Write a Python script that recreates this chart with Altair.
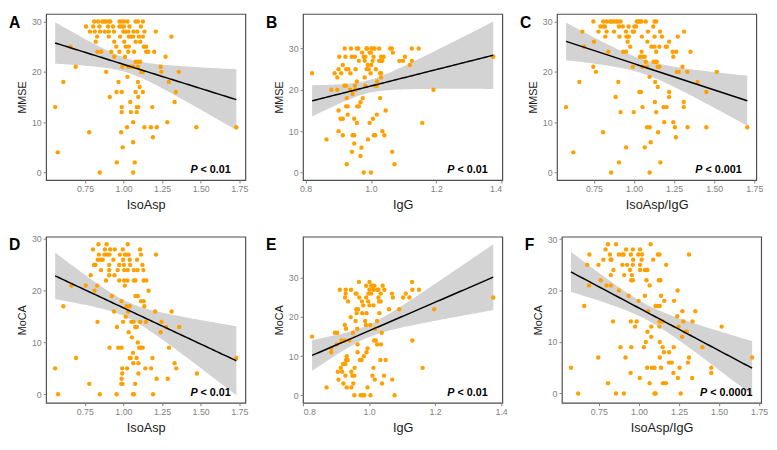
import altair as alt
import pandas as pd
import numpy as np

# ---- data: {score: [x values of points at that score]} ----
A_MMSE_ISOASP = {
    30: [0.809, 0.834, 0.862, 0.876, 0.887, 0.904, 0.914, 0.973, 0.988, 1.004, 1.025, 1.078, 1.093, 1.125],
    29: [0.756, 0.803, 0.843, 0.899, 0.931, 0.973, 0.988, 1.002, 1.038, 1.112],
    28: [0.782, 0.813, 0.847, 0.878, 0.904, 0.937, 0.998, 1.013, 1.030, 1.064, 1.089, 1.135, 1.209],
    27: [0.828, 0.904, 0.977, 1.034, 1.047, 1.062, 1.099, 1.125, 1.310],
    26: [0.819, 0.939, 1.004, 1.078, 1.107],
    25: [0.655, 0.952, 1.013, 1.034, 1.131, 1.146],
    24: [0.830, 0.855, 0.920, 0.973, 1.030, 1.068, 1.146, 1.160, 1.198],
    23: [0.939, 1.009, 1.272],
    22: [1.078, 1.093, 1.107],
    21: [0.689, 0.992, 1.030, 1.047, 1.062, 1.093, 1.240],
    20: [0.887, 1.114, 1.125, 1.245, 1.358],
    19: [1.025],
    18: [0.609, 0.967, 1.093, 1.293],
    17: [1.104],
    16: [0.954, 0.988, 1.078, 1.125, 1.339],
    15: [0.910, 1.095],
    14: [1.043, 1.331],
    13: [0.556, 0.988, 1.085, 1.095, 1.186],
    12: [0.988, 1.047, 1.085],
    10: [1.062, 1.283],
    9: [1.022, 1.135, 1.177, 1.215, 1.472, 1.731],
    8: [0.777, 0.984],
    7: [1.190],
    6: [1.062],
    5: [0.994],
    4: [0.573],
    2: [0.956, 1.072],
    0: [0.845, 1.062],
}

B_MMSE_IGG = {
    30: [0.920, 0.939, 0.957, 0.961, 0.986, 0.988, 1.001, 1.006, 1.011, 1.025, 1.059, 1.064, 1.125, 1.146],
    29: [0.973, 0.996, 1.000, 1.067],
    28: [0.903, 0.922, 0.941, 0.951, 0.978, 0.983, 1.008, 1.031, 1.039, 1.104, 1.374],
    27: [0.963, 0.981, 1.005, 1.025, 1.030, 1.035, 1.087, 1.098, 1.125],
    26: [0.914, 0.990, 1.001, 1.119],
    25: [0.901, 0.924, 0.931, 0.953, 0.987, 0.993, 1.015],
    24: [0.820, 0.889, 0.909, 0.937, 0.999, 1.028, 1.031],
    23: [0.897, 0.981, 1.031],
    22: [0.957, 1.019],
    21: [0.919, 0.924, 0.951, 0.983, 1.013, 1.018],
    20: [0.879, 0.897, 0.936, 0.953, 1.191],
    19: [0.944],
    18: [0.926, 0.975, 1.028],
    17: [0.968],
    16: [0.924, 0.929, 0.958, 0.963],
    15: [0.901, 1.045],
    14: [0.929, 1.018],
    13: [0.907, 0.914, 0.949, 1.006],
    12: [0.957, 0.996, 1.157],
    10: [0.901, 1.035],
    9: [0.914, 0.944, 0.949, 1.009, 1.013, 1.041],
    8: [0.864, 0.991],
    7: [0.949],
    6: [0.971],
    5: [0.942, 1.065],
    4: [0.968],
    2: [0.926, 1.072],
    0: [0.978, 1.000],
}

C_MMSE_RATIO = {
    30: [0.746, 0.807, 0.829, 0.851, 0.859, 0.871, 0.887, 0.899, 0.916, 1.017, 1.027, 1.037, 1.047, 1.073, 1.128, 1.138],
    29: [0.790, 0.809, 0.819, 0.906, 0.930, 0.966, 1.002, 1.013, 1.120],
    28: [0.677, 0.778, 0.829, 0.875, 0.950, 0.992, 1.000, 1.087, 1.162, 1.312],
    27: [0.821, 0.909, 0.952, 0.960, 0.968, 1.049, 1.128, 1.174, 1.273],
    26: [0.750, 0.960, 1.083, 1.219],
    25: [0.689, 0.976, 1.108, 1.128, 1.158, 1.198, 1.205],
    24: [0.839, 0.932, 0.950, 1.047, 1.138, 1.241, 1.263, 1.352],
    23: [1.037, 1.053, 1.067, 1.245],
    22: [1.073, 1.122, 1.134, 1.142],
    21: [0.746, 0.992, 1.053, 1.081, 1.148, 1.158, 1.302],
    20: [0.762, 1.267, 1.279, 1.332, 1.516],
    19: [1.097],
    18: [0.659, 0.902, 1.132, 1.396],
    17: [1.148],
    16: [1.033, 1.043, 1.219, 1.451],
    15: [0.885, 1.219],
    14: [1.130, 1.310],
    13: [0.576, 1.053, 1.184, 1.203, 1.310],
    12: [0.916, 0.998, 1.138],
    10: [1.188, 1.245],
    9: [1.081, 1.097, 1.255, 1.334, 1.451, 1.706],
    8: [0.807, 1.150],
    7: [1.261],
    6: [1.104],
    5: [0.950, 1.067],
    4: [0.621],
    2: [0.906, 1.164],
    0: [0.857, 1.097],
}

D_MOCA_ISOASP = {
    29: [0.838, 0.891, 1.028],
    28: [0.803, 0.880, 0.914, 0.944, 0.996, 1.108],
    27: [0.841, 0.877, 0.895, 0.910, 0.977, 1.009, 1.022, 1.034, 1.114, 1.211],
    26: [0.834, 0.851, 0.866, 0.935, 0.998, 1.041, 1.089],
    25: [0.809, 0.819, 0.908, 0.973, 1.003, 1.043, 1.123],
    24: [0.855, 0.908, 0.963, 1.005, 1.028, 1.068, 1.091, 1.129],
    23: [0.788, 0.908, 0.942],
    22: [0.887, 0.973, 1.005, 1.026, 1.068, 1.078, 1.131, 1.148],
    21: [0.662, 0.756, 0.830, 1.009],
    20: [0.813, 1.163],
    19: [0.925, 1.078, 1.093],
    18: [0.988, 1.114, 1.131],
    17: [0.611, 1.020, 1.041, 1.135],
    16: [0.939, 1.030, 1.205, 1.312],
    15: [1.015],
    14: [0.832, 0.998, 1.051, 1.066, 1.108, 1.146, 1.247],
    13: [0.958, 1.076, 1.087, 1.276, 1.361],
    12: [1.034, 1.241],
    11: [1.055],
    10: [1.093],
    9: [0.910, 0.967, 0.988, 1.102, 1.114, 1.125, 1.295],
    8: [1.062],
    7: [0.693, 1.041, 1.047, 1.085, 1.188, 1.731],
    6: [1.064, 1.097, 1.331],
    5: [0.558, 0.992, 1.024, 1.142, 1.179, 1.342],
    4: [0.992, 1.097, 1.476],
    3: [0.988, 1.215, 1.287],
    2: [0.779, 0.986, 0.994, 1.076],
    0: [0.577, 0.847, 0.956, 1.062, 1.068, 1.192],
}

E_MOCA_IGG = {
    29: [0.969, 1.001, 1.130],
    28: [0.991, 1.006, 1.011, 1.016, 1.041],
    27: [0.911, 0.929, 0.945, 1.001, 1.013, 1.024, 1.028, 1.046, 1.131, 1.151],
    26: [0.929, 0.959, 0.962, 0.998, 1.006, 1.035, 1.069, 1.111],
    25: [0.927, 0.970, 0.991, 1.028, 1.072, 1.103, 1.122, 1.376],
    24: [0.936, 0.978, 0.997, 1.030, 1.035],
    23: [0.982, 1.001, 1.013],
    22: [0.961, 0.966, 1.060, 1.091, 1.197],
    21: [0.962, 0.979, 0.992, 1.031],
    20: [0.944],
    19: [0.959, 0.988, 1.024],
    18: [0.926, 0.990, 1.003],
    17: [0.930, 0.964, 1.018],
    16: [0.896, 0.903, 0.951, 1.038],
    15: [0.827],
    14: [0.916, 0.925, 0.940, 1.015, 1.020, 1.131],
    13: [0.902, 0.965, 1.024, 1.036],
    12: [0.885, 0.995],
    11: [0.885, 0.965, 0.992],
    10: [0.932, 0.984],
    9: [0.930, 0.935, 0.972, 0.977, 1.034, 1.050],
    8: [0.921, 0.928],
    7: [0.914, 0.956, 1.013, 1.162],
    6: [0.905, 0.918, 0.946],
    5: [0.928, 0.949, 0.955, 1.010, 1.045],
    4: [0.907, 1.017, 1.070],
    3: [0.922, 0.952, 1.039],
    2: [0.871, 0.932, 0.946, 0.995],
    0: [0.955, 0.974, 0.980, 0.985, 1.004, 1.077],
}

F_MOCA_RATIO = {
    29: [0.807, 0.857, 1.073],
    28: [0.792, 0.920, 0.962, 1.007],
    27: [0.691, 0.819, 0.875, 0.895, 0.905, 0.950, 0.996, 1.019, 1.118, 1.128, 1.312],
    26: [0.778, 0.823, 0.829, 0.964, 1.017, 1.089],
    25: [0.677, 0.748, 0.897, 0.926, 0.962, 1.007, 1.170],
    24: [0.841, 0.944, 1.007, 1.037, 1.047, 1.053],
    23: [0.825, 0.908, 0.956],
    22: [0.762, 0.952, 0.962, 1.047, 1.124, 1.134],
    21: [0.689, 0.798, 0.825, 1.067],
    20: [0.875, 1.241],
    19: [0.936, 1.037, 1.138],
    18: [0.998, 1.158, 1.219],
    17: [0.659, 1.104, 1.118, 1.130],
    16: [1.057, 1.271, 1.352],
    15: [1.239],
    14: [0.839, 0.950, 0.986, 1.128, 1.138, 1.148, 1.277, 1.334],
    13: [0.976, 1.077, 1.128, 1.247, 1.516],
    12: [1.053, 1.289, 1.299],
    11: [1.077, 1.269],
    10: [1.043, 1.130],
    9: [0.885, 0.952, 1.031, 1.148, 1.217, 1.396],
    8: [1.156, 1.188],
    7: [0.746, 0.916, 1.130, 1.312, 1.706],
    6: [1.188, 1.205, 1.306],
    5: [0.576, 1.051, 1.081, 1.097, 1.138, 1.253, 1.451],
    4: [0.948, 1.215, 1.451],
    3: [1.005, 1.243, 1.332],
    2: [0.807, 1.067, 1.150, 1.168],
    0: [0.621, 0.857, 0.906, 1.097, 1.104, 1.261],
}

LETTERS = ["A", "B", "C", "D", "E", "F"]
X_TITLES = ["IsoAsp", "IgG", "IsoAsp/IgG", "IsoAsp", "IgG", "IsoAsp/IgG"]
Y_TITLES = ["MMSE", "MMSE", "MMSE", "MoCA", "MoCA", "MoCA"]
P_TEXTS = ["< 0.01", "< 0.01", "< 0.001", "< 0.01", "< 0.01", "< 0.0001"]
TICKS_RATIO = [0.75, 1.00, 1.25, 1.50, 1.75]
TICKS_IGG = [0.8, 0.9, 1.0, 1.1, 1.2, 1.3, 1.4]
Y_TICKS = [0, 10, 20, 30]

# ---- style ----
W, H = 204, 170
FONT = "Liberation Sans"
PT_COLOR = "#FFA000"
BAND_COLOR = "#D3D3D3"
GRAY = "#7F7F7F"
# approximate bold Arial advance widths (em)
CW = {"<": 0.584, " ": 0.278, ".": 0.278}


def expand(rows):
    xs, ys = [], []
    for y, xl in rows.items():
        for x in xl:
            xs.append(x)
            ys.append(float(y))
    return np.array(xs), np.array(ys)


def fit_band(xs, ys, n=80):
    grid = np.linspace(xs.min(), xs.max(), n)
    b, a = np.polyfit(xs, ys, 1)
    resid = ys - (a + b * xs)
    nobs = len(xs)
    s = np.sqrt((resid ** 2).sum() / (nobs - 2))
    sxx = ((xs - xs.mean()) ** 2).sum()
    se = s * np.sqrt(1.0 / nobs + (grid - xs.mean()) ** 2 / sxx)
    t = 1.977
    yhat = a + b * grid
    return grid, yhat, yhat - t * se, yhat + t * se


def panel(rows, letter, xtitle, ytitle, ptext, xticks, xfmt, pright):
    xs, ys = expand(rows)
    g, yh, lo, hi = fit_band(xs, ys)
    xr = xs.max() - xs.min()
    xdom = [xs.min() - 0.05 * xr, xs.max() + 0.05 * xr]
    ymin = min(ys.min(), lo.min())
    ymax = max(ys.max(), hi.max())
    yr = ymax - ymin
    ydom = [ymin - 0.05 * yr, ymax + 0.05 * yr]

    pts = pd.DataFrame({"x": xs, "y": ys})
    fit = pd.DataFrame({"x": g, "yhat": yh, "lo": lo, "hi": hi})

    xsc = alt.Scale(domain=xdom, nice=False, zero=False)
    ysc = alt.Scale(domain=ydom, nice=False, zero=False)
    xax = alt.Axis(values=xticks, format=xfmt, title=xtitle, titleFontSize=13,
                   titlePadding=5, labelPadding=2)
    yax = alt.Axis(values=Y_TICKS, title=ytitle, titleFontSize=11,
                   titlePadding=4, labelPadding=2)

    band = alt.Chart(fit).mark_area(color=BAND_COLOR, opacity=1).encode(
        x=alt.X("x:Q", scale=xsc, axis=xax),
        y=alt.Y("lo:Q", scale=ysc, axis=yax),
        y2="hi:Q",
    )
    dots = alt.Chart(pts).mark_circle(color=PT_COLOR, size=20, opacity=1).encode(
        x="x:Q", y="y:Q"
    )
    line = alt.Chart(fit).mark_line(color="black", strokeWidth=1.5).encode(
        x="x:Q", y="yhat:Q"
    )

    lab = alt.Chart(pd.DataFrame({"t": [letter]})).mark_text(
        font=FONT, fontSize=16, fontWeight="bold", align="left", baseline="alphabetic",
        color="black"
    ).encode(x=alt.value(-38), y=alt.value(14), text="t:N")

    rest = " " + ptext
    rest_w = 11 * sum(CW.get(c, 0.556) for c in rest)
    xr_px = W - pright
    ylev = H - 10
    ptxt = alt.Chart(pd.DataFrame({"t": [rest]})).mark_text(
        font=FONT, fontSize=11, fontWeight="bold", align="right", color="black"
    ).encode(x=alt.value(xr_px), y=alt.value(ylev), text="t:N")
    pital = alt.Chart(pd.DataFrame({"t": ["P"]})).mark_text(
        font=FONT, fontSize=11, fontWeight="bold", fontStyle="italic", align="right",
        color="black"
    ).encode(x=alt.value(xr_px - rest_w), y=alt.value(ylev), text="t:N")

    return alt.layer(band, dots, line, lab, ptxt, pital).properties(width=W, height=H)


panels = []
datasets = [A_MMSE_ISOASP, B_MMSE_IGG, C_MMSE_RATIO, D_MOCA_ISOASP, E_MOCA_IGG, F_MOCA_RATIO]
for i, rows in enumerate(datasets):
    igg = X_TITLES[i] == "IgG"
    panels.append(panel(
        rows, LETTERS[i], X_TITLES[i], Y_TITLES[i], P_TEXTS[i],
        TICKS_IGG if igg else TICKS_RATIO, ".1f" if igg else ".2f",
        9 if i == 5 else 15,
    ))

top = alt.hconcat(*panels[:3], spacing=16)
bottom = alt.hconcat(*panels[3:], spacing=16)
chart = alt.vconcat(top, bottom, spacing=22).properties(
    padding={"left": 0, "top": 0, "right": 0, "bottom": 0}
).configure_view(
    stroke="#4D4D4D", strokeWidth=1.2
).configure_axis(
    grid=False, domain=False, labelColor=GRAY, labelFontSize=9, labelFont=FONT,
    tickColor=GRAY, tickSize=3, titleFont=FONT, titleFontWeight="normal",
    titleColor="#1A1A1A"
)

chart.save("out.html", embed_options={"renderer": "svg", "actions": False})
